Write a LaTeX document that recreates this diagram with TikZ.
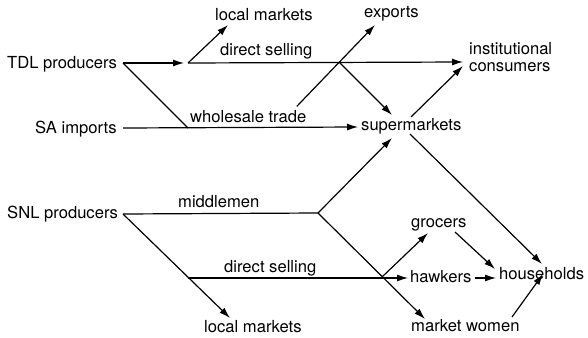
\documentclass[tikz,border=0pt]{standalone}
\usepackage{fontspec}
\setmainfont{TeX Gyre Heros}
\usetikzlibrary{arrows.meta}
\begin{document}
\begin{tikzpicture}[x=1pt,y=-1pt,
  lab/.style={anchor=base west,inner sep=0pt,font=\fontsize{16.6}{18}\selectfont},
  con/.style={line width=1.2pt},
  arr/.style={con,-{Latex[length=11pt,width=7pt]}}]
\useasboundingbox (0,0) rectangle (588,337);
% labels
\node[lab] (tdl) at (7,68) {TDL producers};
\node[lab] (sa) at (35,133) {SA imports};
\node[lab] (snl) at (7,218) {SNL producers};
\node[lab] (lm1) at (215,21) {local markets};
\node[lab] (ds1) at (220,56) {direct selling};
\node[lab] (ws) at (190,122) {wholesale trade};
\node[lab] (exp) at (364,18) {exports};
\node[lab] (inst) at (469,55) {institutional};
\node[lab] (cons) at (469,71) {consumers};
\node[lab] (sup) at (361,130) {supermarkets};
\node[lab] (mid) at (178,207) {middlemen};
\node[lab] (ds2) at (224,272) {direct selling};
\node[lab] (lm2) at (204,332) {local markets};
\node[lab] (gro) at (411,227) {grocers};
\node[lab] (haw) at (410,282) {hawkers};
\node[lab] (hh) at (499,279) {households};
\node[lab] (mw) at (411,331) {market women};
% connector points
\coordinate (tdlo) at (123,63);
\coordinate (sao) at (123,128);
\coordinate (snlo) at (123,214);
\coordinate (j1) at (188,63);
\coordinate (j1in) at (184,63);
\coordinate (jsa) at (188,128);
\coordinate (j2) at (339,62);
\coordinate (jw) at (276,128);
\coordinate (j3) at (318,213);
\coordinate (j4) at (382,277);
\coordinate (jd) at (188,278);
\coordinate (lm1in) at (228,25);
\coordinate (expin) at (375,25);
\coordinate (instin) at (463,62);
\coordinate (instin2) at (463,66);
\coordinate (supin) at (358,127);
\coordinate (supin2) at (392,115);
\coordinate (supin3) at (392,138);
\coordinate (supo1) at (411,117);
\coordinate (supo2) at (410,134);
\coordinate (hhin1) at (542,264);
\coordinate (hhin2) at (495,269);
\coordinate (hhin3) at (496,278);
\coordinate (hhin4) at (543,274);
\coordinate (mwin) at (425,319);
\coordinate (lm2in) at (230,318);
\coordinate (hawin) at (408,278);
\coordinate (groin) at (428,233);
\coordinate (groo) at (455,232);
\coordinate (hawo) at (475,278);
\coordinate (mwo) at (512,317);
% connectors
\draw[arr] (tdlo) -- (j1in);
\draw[arr] (j1) -- (lm1in);
\draw[arr] (j1) -- (instin);
\draw[con] (tdlo) -- (jsa);
\draw[arr] (sao) -- (supin);
\draw[arr,shorten <=30pt] (jw) -- (expin);
\draw[arr] (j2) -- (supin2);
\draw[arr] (supo1) -- (instin2);
\draw[arr] (supo2) -- (hhin1);
\draw[con] (snlo) -- (j3);
\draw[arr] (j3) -- (supin3);
\draw[arr] (j3) -- (mwin);
\draw[arr] (snlo) -- (lm2in);
\draw[arr] (jd) -- (hawin);
\draw[arr] (j4) -- (groin);
\draw[arr] (groo) -- (hhin2);
\draw[arr] (hawo) -- (hhin3);
\draw[arr] (mwo) -- (hhin4);
\end{tikzpicture}
\end{document}
